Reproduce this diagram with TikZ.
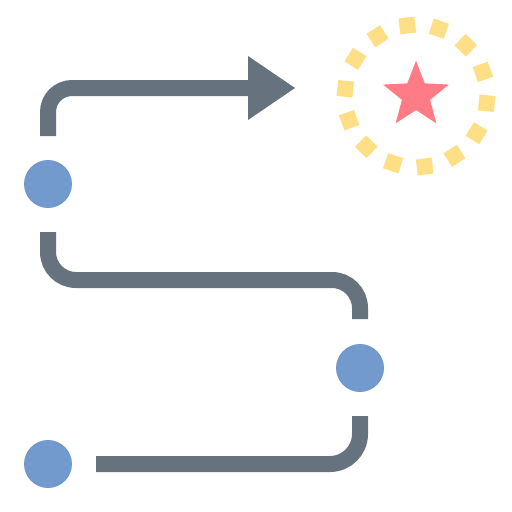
\documentclass[tikz,border=0pt]{standalone}
\definecolor{pathgray}{HTML}{66737F}
\definecolor{dotblue}{HTML}{739ACD}
\definecolor{starred}{HTML}{FF7B86}
\definecolor{ringyellow}{HTML}{FFDF85}
\begin{document}
\begin{tikzpicture}[x=1pt,y=-1pt,
  route/.style={draw=pathgray,line width=16pt},
  dot/.style={circle,fill=dotblue,inner sep=0pt,minimum size=48pt},
  ringdash/.style={draw=ringyellow,line width=16pt}]
\useasboundingbox[fill=white] (0,0) rectangle (512,512);
% dots
\node[dot] (d1) at (48,184) {};
\node[dot] (d2) at (360,368) {};
\node[dot] (d3) at (48,464) {};
% route pieces
\coordinate (a1) at (48,136);
\coordinate (a2) at (248,88);
\draw[route,rounded corners=24pt] (a1) -- (48,88) -- (a2);
\fill[pathgray] (248,56) -- (295,88) -- (248,120) -- cycle;
\coordinate (b1) at (48,232);
\coordinate (b2) at (360,319);
\draw[route,rounded corners=28pt] (b1) -- (48,280) -- (360,280) -- (b2);
\coordinate (c1) at (360,416);
\coordinate (c2) at (96,464);
\draw[route,rounded corners=30pt] (c1) -- (360,464) -- (c2);
% star
\fill[starred,shift={(416,95.3)}] (-90:34.6) -- (-54:14.8) -- (-18:34.6) -- (18:14.8) -- (54:34.6) -- (90:14.8) -- (126:34.6) -- (162:14.8) -- (198:34.6) -- (234:14.8) -- cycle;
% dashed ring
\foreach \k in {0,...,13}{
  \pgfmathsetmacro{\ang}{-97+\k*360/14}
  \draw[ringdash,shift={(416,96)}] ({\ang-6.4}:71.5) -- ({\ang+6.4}:71.5);
}
\end{tikzpicture}
\end{document}
